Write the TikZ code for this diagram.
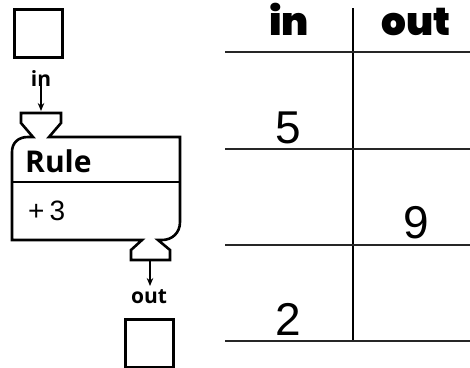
\documentclass[tikz,border=0pt]{standalone}
\usepackage{fontspec}
\usetikzlibrary{arrows.meta}
\IfFontExistsTF{Open Sans ExtraBold}{\newfontfamily\labfont{Open Sans ExtraBold}}{\newfontfamily\labfont{Open Sans}[UprightFont=*-Bold]}
\IfFontExistsTF{Poppins Black}{\newfontfamily\headfont{Poppins Black}}{\newfontfamily\headfont{Poppins}[UprightFont=*-Bold]}
\newfontfamily\numfont{Liberation Sans}
\tikzset{
  heavy/.style={line width=2.6pt, line join=miter},
  tline/.style={line width=2pt, draw=black!85},
  vbox/.style={draw, line width=2.6pt, minimum width=48pt, minimum height=48pt, inner sep=0pt},
  flow/.style={line width=1.5pt, -{Stealth[length=8pt,width=6.5pt]}},
  smalllab/.style={font=\labfont\fontsize{21}{21}\selectfont, inner sep=0pt, anchor=base},
  head/.style={font=\headfont\fontsize{39}{39}\selectfont, inner sep=0pt, anchor=base},
  num/.style={font=\numfont\fontsize{46}{46}\selectfont, inner sep=0pt, anchor=base},
}
\begin{document}
\begin{tikzpicture}[x=1pt,y=-1pt]
\useasboundingbox (0,0) rectangle (470,367);
% input / output boxes
\node[vbox] (inbox) at (38.5,33.5) {};
\node[vbox] (outbox) at (149.5,343.5) {};
\node[smalllab] (inlab) at (41,86) {in};
\node[smalllab] (outlab) at (149,303) {out};
\coordinate (intop) at (41,111);
\coordinate (outbot) at (150,260);
\coordinate (outarr) at (150,286);
% machine
\draw[heavy] (49,137) -- (180,137) -- (180,222)
  .. controls (180,233) and (172,240) .. (162,240) -- (158,240)
  -- (170,250) -- (170,260) -- (131,260) -- (131,250) -- (142,240)
  -- (12,240) -- (12,152)
  .. controls (12,143) and (18,137) .. (28,137) -- (33,137)
  -- (21,123) -- (21,113) -- (61,113) -- (61,123) -- cycle;
\draw[heavy] (12,182) -- (180,182);
\node[font=\labfont\fontsize{30}{30}\selectfont, inner sep=0pt, anchor=base west] (rule) at (25,172) {Rule};
\node[font=\numfont\fontsize{28}{28}\selectfont, inner sep=0pt, anchor=base west] (plus) at (28,220) {+\kern5pt3};
\draw[flow] (inlab.south) ++(0,-2) -- (intop);
\draw[flow] (outbot) -- (outarr);
% table
\coordinate (vt) at (353,8);
\coordinate (vb) at (353,341);
\draw[line width=2.4pt] (vt) -- (vb);
\foreach \yy in {52,149,245,341} \draw[tline] (225,\yy) -- (470,\yy);
\node[head] (hin) at (289,35) {in};
\node[head] (hout) at (416,35) {out};
\node[num] (n5) at (288.5,143) {5};
\node[num] (n9) at (416.5,238) {9};
\node[num] (n2) at (288.5,335) {2};
\end{tikzpicture}
\end{document}
